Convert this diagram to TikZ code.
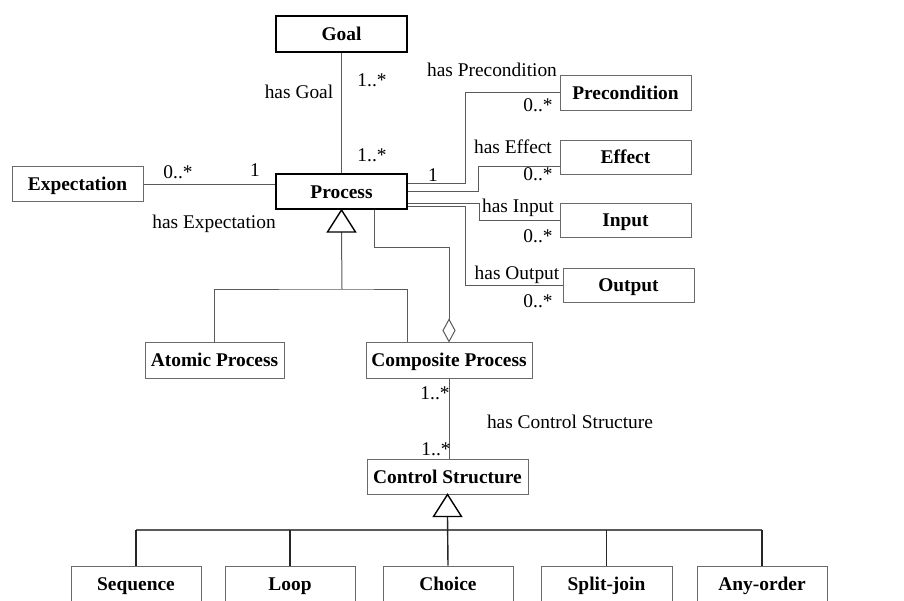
\documentclass[tikz,border=0pt]{standalone}
\usepackage{fontspec}
\setmainfont{Liberation Serif}
\newcommand{\fsz}{\fontsize{19.4}{23}\selectfont}
\definecolor{linegray}{HTML}{5A5A5A}
\definecolor{boxgray}{HTML}{6A6A6A}
\begin{document}
\begin{tikzpicture}[x=1pt,y=-1pt,
  box/.style={draw=boxgray, line width=1pt, fill=white, inner sep=0pt,
    text height=13pt, text depth=0pt,
    minimum width=131pt, minimum height=35pt, font=\fsz\bfseries},
  thickbox/.style={box, draw=black, line width=2pt},
  conn/.style={draw=linegray, line width=1pt},
  gen/.style={draw=black, line width=1.4pt, fill=white, line join=miter},
  lbl/.style={font=\fsz, inner sep=0pt, text height=13pt, text depth=0pt}]
\useasboundingbox (0,0) rectangle (904,600);
\clip (0,0) rectangle (904,600);
\fill[white] (0,0) rectangle (904,600);

% nodes
\node[thickbox, minimum height=36pt] (Goal) at (341.5,34) {Goal};
\node[thickbox] (Process) at (341.5,191.5) {Process};
\node[box] (Expectation) at (77.5,184) {Expectation};
\node[box] (Pre) at (625.5,92.5) {Precondition};
\node[box, minimum height=34pt] (Effect) at (625.5,157) {Effect};
\node[box, minimum height=34pt] (Input) at (625.5,220) {Input};
\node[box, minimum height=34pt] (Output) at (628.5,285) {Output};
\node[box, minimum width=139pt, minimum height=36pt] (Atomic) at (214.5,360) {Atomic Process};
\node[box, minimum width=166pt, minimum height=36pt] (Composite) at (449,360) {Composite Process};
\node[box, minimum width=161pt] (Control) at (447.5,476.5) {Control Structure};
\node[box, minimum width=130pt, minimum height=36pt] (Sequence) at (136,584) {Sequence};
\node[box, minimum width=130pt, minimum height=36pt] (Loop) at (290,584) {Loop};
\node[box, minimum width=130pt, minimum height=36pt] (Choice) at (448,584) {Choice};
\node[box, minimum width=131pt, minimum height=36pt] (Split) at (606.5,584) {Split-join};
\node[box, minimum width=130pt, minimum height=36pt] (Any) at (762,584) {Any-order};

% helper coordinates
\coordinate (pB) at (465,183);
\coordinate (eB) at (478,166);
\coordinate (iB) at (479,203);
\coordinate (oB) at (465,206);
\coordinate (aB) at (374,247);
\coordinate (gb) at (342,289);
\coordinate (cTop) at (407,342);
\coordinate (barY) at (0,530);

% associations
\draw[conn] (Goal) -- (Process);
\draw[conn] (Expectation.east) -- (Expectation.east -| Process.west);
\draw[conn] (Process.east |- pB) -- (pB) |- (Pre.west);
\draw[conn] (Process.east) -| (eB) -- (eB -| Effect.west);
\draw[conn] (Process.east |- iB) -- (iB) |- (Input.west);
\draw[conn] (Process.east |- oB) -- (oB) |- (Output.west);

% aggregation
\coordinate (dtop) at ([yshift=22pt]Composite.north);
\draw[conn] (Process.south -| aB) -- (aB) -| (dtop);
\draw[draw=linegray, line width=1pt, fill=white] (Composite.north) -- ++(-6,-11) -- (dtop) -- ++(6,11) -- cycle;

% generalization Process
\coordinate (g1) at ([yshift=-22pt]Process.south);
\draw[conn] (g1) -- (gb);
\draw[conn] (Atomic.north) |- (gb) -| (cTop);
\draw[gen] (Process.south) -- ([xshift=-14pt]g1) -- ([xshift=14pt]g1) -- cycle;

% control structure
\draw[conn] (Composite.south) -- (Composite.south |- Control.north);
\coordinate (g2) at ([yshift=-22pt]Control.south);
\draw[draw=linegray, line width=2pt] (Sequence.north |- barY) -- (Any.north |- barY);
\draw[draw=black!85, line width=1.2pt] (Sequence.north) -- (Sequence.north |- barY);
\draw[draw=black!85, line width=1.2pt] (Loop.north) -- (Loop.north |- barY);
\draw[draw=black!85, line width=1.2pt] (Split.north) -- (Split.north |- barY);
\draw[draw=black!85, line width=1.2pt] (Any.north) -- (Any.north |- barY);
\draw[draw=black!85, line width=1.4pt] (g2) -- (Choice.north);
\draw[gen] (Control.south) -- ([xshift=-14pt]g2) -- ([xshift=14pt]g2) -- cycle;

% labels
\node[lbl] (lg) at (299,92) {has Goal};
\node[lbl] (lg1) at (372,80) {1..*};
\node[lbl] (lg2) at (372,155) {1..*};
\node[lbl] (le1) at (255,170) {1};
\node[lbl] (le2) at (178,172) {0..*};
\node[lbl] (le) at (214,222) {has Expectation};
\node[lbl] (lp1) at (433,175) {1};
\node[lbl] (lp) at (492,70) {has Precondition};
\node[lbl] (lp2) at (538,105) {0..*};
\node[lbl] (lf) at (513,147) {has Effect};
\node[lbl] (lf2) at (538,174) {0..*};
\node[lbl] (li) at (518,206) {has Input};
\node[lbl] (li2) at (538,236) {0..*};
\node[lbl] (lo) at (517,273) {has Output};
\node[lbl] (lo2) at (538,301) {0..*};
\node[lbl] (lc1) at (435,393) {1..*};
\node[lbl] (lc) at (570,422) {has Control Structure};
\node[lbl] (lc2) at (436,449) {1..*};
\end{tikzpicture}
\end{document}
